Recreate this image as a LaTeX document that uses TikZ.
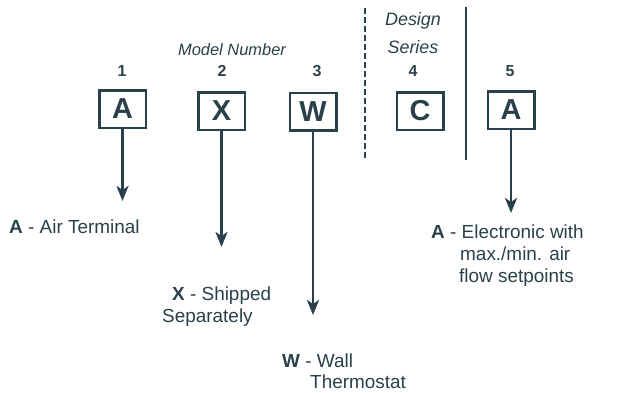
\documentclass[tikz,border=0pt]{standalone}
\usepackage{fontspec}
\setmainfont{Liberation Sans}
\usetikzlibrary{arrows.meta}
\definecolor{ink}{RGB}{42,64,74}
\begin{document}
\begin{tikzpicture}[x=1bp,y=-1bp,
  codebox/.style={draw=ink, line width=2.5bp, minimum width=46.5bp, minimum height=37.5bp, inner sep=0pt, text=ink, font=\fontsize{29}{29}\selectfont\bfseries},
  num/.style={anchor=base, inner sep=0pt, text=ink, font=\fontsize{16}{16}\selectfont\bfseries},
  head/.style={anchor=base, inner sep=0pt, text=ink, font=\fontsize{16.5}{16.5}\selectfont\itshape},
  desc/.style={anchor=base west, inner sep=0pt, text=ink, font=\fontsize{19}{19}\selectfont},
  arr/.style={draw=ink, line width=2.8bp, -{Stealth[length=15bp, width=12bp, inset=4bp]}},
  sep/.style={draw=ink, line width=2.5bp}
]
\useasboundingbox (0,0) rectangle (625,392);
% headings
\node[head] (mn) at (232,55) {Model Number};
\node[head, font=\fontsize{18}{18}\selectfont\itshape] (ds1) at (413,25) {Design};
\node[head, font=\fontsize{18}{18}\selectfont\itshape] (ds2) at (413,53) {Series};
% numbers
\node[num] (n1) at (122,76) {1};
\node[num] (n2) at (222,76) {2};
\node[num] (n3) at (317,76) {3};
\node[num] (n4) at (413,76) {4};
\node[num] (n5) at (510,76) {5};
% boxes
\node[codebox] (b1) at (122.5,109) {A};
\node[codebox] (b2) at (221.5,111) {X};
\node[codebox] (b3) at (313,111.5) {W};
\node[codebox] (b4) at (420,111) {C};
\node[codebox] (b5) at (511,110) {A};
% separators
\coordinate (d1) at (365,8);
\coordinate (d2) at (365,158);
\coordinate (s1) at (466,7);
\coordinate (s2) at (466,160);
\draw[sep, dash pattern=on 6bp off 3bp] (d1) -- (d2);
\draw[sep] (s1) -- (s2);
% arrow ends
\coordinate (e1) at (b1.south |- 0,201);
\coordinate (e2) at (b2.south |- 0,247);
\coordinate (e3) at (b3.south |- 0,315);
\coordinate (e5) at (b5.south |- 0,213);
\draw[arr] (b1.south) -- (e1);
\draw[arr] (b2.south) -- (e2);
\draw[arr] (b3.south) -- (e3);
\draw[arr] (b5.south) -- (e5);
% descriptions
\node[desc] (t1) at (9,233) {\textbf{A} - Air Terminal};
\node[desc] (t2a) at (172,300) {\textbf{X} - Shipped};
\node[desc] (t2b) at (162,322) {Separately};
\node[desc] (t3a) at (282,367) {\textbf{W} - Wall};
\node[desc] (t3b) at (310,388) {Thermostat};
\node[desc] (t5a) at (431,238) {\textbf{A} - Electronic with};
\node[desc] (t5b) at (460,260) {max./min. air};
\node[desc] (t5c) at (459,282) {flow setpoints};
\end{tikzpicture}
\end{document}
